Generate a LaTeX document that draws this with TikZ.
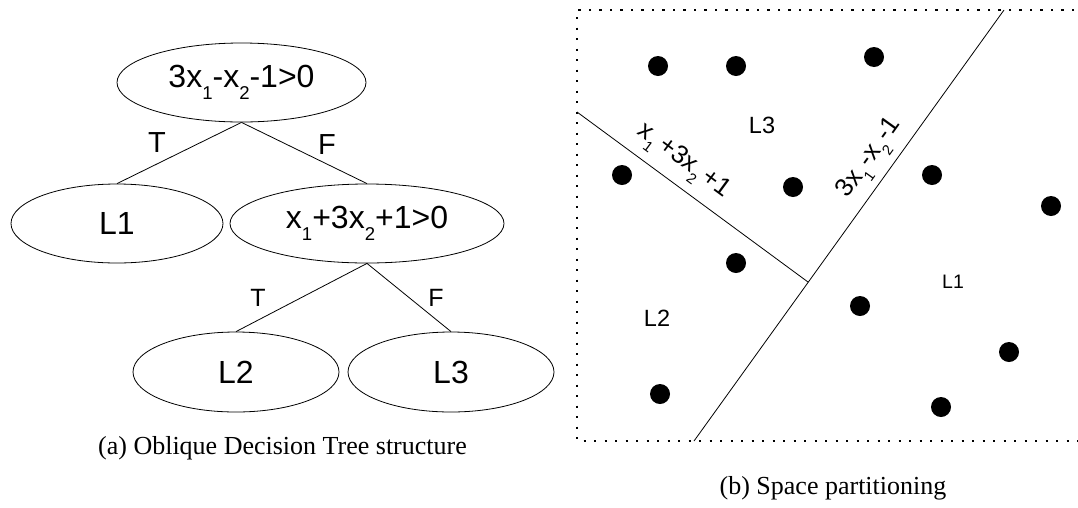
\documentclass[tikz,border=0pt]{standalone}
\usepackage{fontspec}
\usepackage{graphicx}
\newfontfamily\sansf{Liberation Sans}
\newfontfamily\capfont{Liberation Serif}
\usetikzlibrary{shapes.geometric}
\newcommand{\sbs}[1]{\raisebox{-0.36em}{\scalebox{0.58}{#1}}}
\tikzset{
  tnode/.style={ellipse, draw, line width=0.8pt, inner sep=0pt, font=\sansf\fontsize{32}{32}\selectfont},
  edgelab/.style={inner sep=0pt, font=\sansf\fontsize{29}{29}\selectfont},
  edgelabs/.style={inner sep=0pt, font=\sansf\fontsize{25}{25}\selectfont},
  conn/.style={line width=0.8pt},
  region/.style={inner sep=0pt, font=\sansf\fontsize{23.5}{23.5}\selectfont},
  linelab/.style={inner sep=0pt, font=\sansf\fontsize{25.5}{25.5}\selectfont},
  pt/.style={circle, fill=black, minimum size=20pt, inner sep=0pt},
  caption/.style={inner sep=0pt, font=\capfont\fontsize{26}{26}\selectfont},
  frame/.style={line width=2.2pt, dash pattern=on 2.2pt off 8.3pt}
}
\begin{document}
\begin{tikzpicture}[x=1pt,y=-1pt]
\clip (0,0) rectangle (1078,507);
\fill[white] (0,0) rectangle (1078,507);
% tree
\node[tnode, minimum width=249pt, minimum height=79pt] (root) at (241.5,82.5) {3x\sbs{1}-x\sbs{2}-1>0};
\node[tnode, minimum width=212pt, minimum height=79pt] (l1) at (117,223.5) {L1};
\node[tnode, minimum width=274pt, minimum height=79pt] (xn) at (367,223.5) {x\sbs{1}+3x\sbs{2}+1>0};
\node[tnode, minimum width=206pt, minimum height=80pt] (l2) at (236,372) {L2};
\node[tnode, minimum width=206pt, minimum height=80pt] (l3) at (451,372) {L3};
\draw[conn] (root.south) -- (l1.north);
\draw[conn] (root.south) -- (xn.north);
\draw[conn] (xn.south) -- (l2.north);
\draw[conn] (xn.south) -- (l3.north);
\node[edgelab] (t1) at (157,143) {T};
\node[edgelab] (f1) at (327,145) {F};
\node[edgelabs] (t2) at (258,298) {T};
\node[edgelabs] (f2) at (436,298) {F};
\node[caption] (capa) at (282.5,448) {(a) Oblique Decision Tree structure};
% space partitioning
\draw[frame] (1095,10) -- (577,10) -- (577,441) -- (1095,441);
\coordinate (p1) at (577,112);
\coordinate (m) at (808,282);
\coordinate (top2) at (1004,10);
\coordinate (bot2) at (694,441);
\draw[conn] (p1) -- (m);
\draw[conn] (bot2) -- (top2);
\node[linelab, rotate=-36.35] (lab1) at (683,162) {x\sbs{1}\hspace{4pt}+3x\sbs{2}\hspace{4pt}+1};
\node[linelab, rotate=54.3] (lab2) at (871,159) {3x\sbs{1}\hspace{2pt}-x\sbs{2}\hspace{2pt}-1};
\foreach \i/\x/\y in {1/658/66,2/736/66,3/874/57,4/622/175,5/793/187,6/932/175,7/1051/206,8/736/263,9/860/306,10/1009/352,11/660/394,12/941/407}
  \node[pt] (d\i) at (\x,\y) {};
\node[region] (r3) at (762,125) {L3};
\node[region] (r2) at (657,318) {L2};
\node[region, font=\sansf\fontsize{19.5}{19.5}\selectfont] (r1) at (953,282) {L1};
\node[caption] (capb) at (833,488) {(b) Space partitioning};
\end{tikzpicture}
\end{document}
